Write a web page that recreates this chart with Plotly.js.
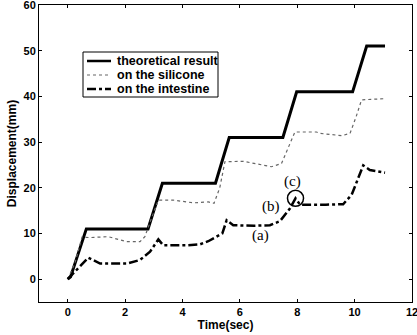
<!DOCTYPE html>
<html><head><meta charset="utf-8">
<script src="https://cdn.plot.ly/plotly-3.0.1.min.js"></script>
<style>html,body{margin:0;padding:0;background:#fff}#chart{width:417px;height:335px}</style>
</head><body><div id="chart"></div>
<script>
const theoX = [0, 0.1, 0.65, 2.8, 3.3, 5.15, 5.63, 7.5, 7.98, 9.93, 10.42, 11.06];
const theoY = [0, 0.5, 11, 11, 21, 21, 31, 31, 41, 41, 51, 51];

const siliX = [0, 0.25, 0.5, 0.78, 1.41, 2.06, 2.52, 2.69, 2.9, 3.16, 3.68, 4.38, 4.9, 5.1, 5.3, 5.48, 6.12, 7.1, 7.45, 7.7, 7.92, 8.67, 8.79, 9.55, 9.84, 10.05, 10.24, 10.42, 11.06];
const siliY = [0, 3.5, 9.2, 9.1, 9.3, 8.2, 8.2, 9.3, 13, 17.3, 17.3, 16.7, 16.9, 16.6, 20, 25.7, 25.8, 24.6, 25.3, 29, 32.2, 32.2, 31.9, 31.4, 31.9, 35.5, 39.2, 39.3, 39.5];

const intX = [0, 0.08, 0.4, 0.72, 1.13, 2.06, 2.52, 2.87, 3.16, 3.33, 4.15, 4.6, 4.9, 5.2, 5.39, 5.54, 5.77, 6.5, 7.05, 7.4, 7.75, 7.94, 8.1, 9.0, 9.6, 9.9, 10.1, 10.3, 10.53, 11.06];
const intY = [0, 0.5, 2.5, 4.7, 3.4, 3.4, 4.2, 6.0, 8.7, 7.4, 7.4, 7.6, 8.3, 9.3, 10, 12.9, 11.8, 11.7, 11.8, 12.7, 15.5, 17.7, 16.3, 16.3, 16.4, 18.5, 21.5, 24.9, 23.9, 23.3];

const seriesNames = ["theoretical result", "on the silicone", "on the intestine"];
const xTickVals = [0, 2, 4, 6, 8, 10, 12];
const yTickVals = [0, 10, 20, 30, 40, 50, 60];
const noteLabels = ["(a)", "(b)", "(c)"];
const noteX = [6.72, 7.07, 7.85];
const noteY = [9.6, 15.8, 21.3];
const markX = 7.94, markY = 17.7;

const lineStyles = [
  {color: "#000", width: 3},
  {color: "#666", width: 1.2, dash: "dot"},
  {color: "#000", width: 2.5, dash: "dashdot"}
];
const traces = [
  {x: theoX, y: theoY, name: seriesNames[0], mode: "lines", line: lineStyles[0]},
  {x: siliX, y: siliY, name: seriesNames[1], mode: "lines", line: lineStyles[1]},
  {x: intX, y: intY, name: seriesNames[2], mode: "lines", line: lineStyles[2]}
];

// custom legend (paper coords) to match compact box of the reference
const W = 417, H = 335, mL = 39, mR = 5, mT = 5, mB = 33;
const pw = W - mL - mR, ph = H - mT - mB;
const px = v => (v - mL) / pw;
const py = v => (H - mB - v) / ph;
const legendShapes = [{type: "rect", xref: "paper", yref: "paper", x0: px(83), x1: px(218), y0: py(97), y1: py(52),
  line: {color: "#000", width: 1}, fillcolor: "#fff", layer: "above"}];
const legendRows = [61, 75, 89];
const legendAnn = [];
seriesNames.forEach((n, i) => {
  legendShapes.push({type: "line", xref: "paper", yref: "paper", x0: px(87), x1: px(111), y0: py(legendRows[i]), y1: py(legendRows[i]),
    line: Object.assign({}, lineStyles[i], {width: i === 1 ? 1.2 : 2.5}), layer: "above"});
  legendAnn.push({xref: "paper", yref: "paper", x: px(115), y: py(legendRows[i]), xanchor: "left", yanchor: "middle",
    text: n, showarrow: false, font: {family: "Liberation Sans, Arial, sans-serif", size: 12.5, color: "#000", weight: "bold"}});
});

const axisFont = {family: "Liberation Sans, Arial, sans-serif", size: 11, color: "#000", weight: "bold"};
const layout = {
  width: W, height: H,
  margin: {l: mL, r: mR, t: mT, b: mB},
  paper_bgcolor: "#fff", plot_bgcolor: "#fff",
  showlegend: false,
  xaxis: {range: [-1, 12], tickvals: xTickVals, ticktext: xTickVals.map(String), ticklabeloverflow: "allow",
    ticks: "inside", ticklen: 3, tickcolor: "#000", mirror: "ticks", showline: true, linecolor: "#000", linewidth: 1,
    showgrid: false, zeroline: false, tickfont: axisFont,
    title: {text: "Time(sec)", font: {family: "Liberation Sans, Arial, sans-serif", size: 12, color: "#000", weight: "bold"}, standoff: 2}},
  yaxis: {range: [-5, 60], tickvals: yTickVals, ticktext: yTickVals.map(String), ticklabeloverflow: "allow",
    ticks: "inside", ticklen: 3, tickcolor: "#000", mirror: "ticks", showline: true, linecolor: "#000", linewidth: 1,
    showgrid: false, zeroline: false, tickfont: axisFont,
    title: {text: "Displacement(mm)", font: {family: "Liberation Sans, Arial, sans-serif", size: 12, color: "#000", weight: "bold"}, standoff: 4}},
  annotations: noteLabels.map((t, i) => ({x: noteX[i], y: noteY[i], xref: "x", yref: "y", text: t, showarrow: false,
    font: {family: "Liberation Serif, Times New Roman, serif", size: 15, color: "#000"}})).concat(legendAnn),
  shapes: [{type: "circle", xref: "x", yref: "y", x0: markX - 0.28, x1: markX + 0.28, y0: markY - 1.75, y1: markY + 1.75,
    line: {color: "#000", width: 1.5}}].concat(legendShapes)
};
Plotly.newPlot("chart", traces, layout, {displayModeBar: false, staticPlot: true});
</script></body></html>
